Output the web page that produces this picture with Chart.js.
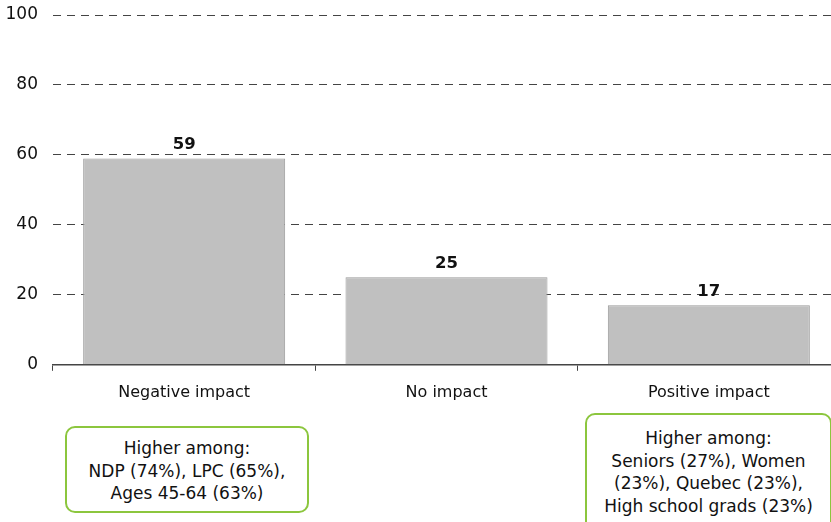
<!DOCTYPE html>
<html>
<head>
<meta charset="utf-8">
<script src="https://cdn.jsdelivr.net/npm/chart.js@4"></script>
<style>
  html, body { margin: 0; padding: 0; background: #fff; overflow: hidden; }
  #wrap { position: relative; width: 845px; height: 522px; }
  .note {
    position: absolute;
    border: 2px solid #8cc63e;
    border-radius: 10px;
    background: #fff;
    font-family: "DejaVu Sans", Verdana, sans-serif;
    font-size: 17px;
    line-height: 22.5px;
    color: #111;
    text-align: center;
    box-sizing: border-box;
    white-space: nowrap;
  }
</style>
</head>
<body>
<div id="wrap">
  <canvas id="bar-chart" width="845" height="522"></canvas>
  <div class="note" style="left:65px; top:426px; width:244px; height:87px; padding-top:9px;">
    Higher among:<br>NDP (74%), LPC (65%),<br>Ages 45-64 (63%)
  </div>
  <div class="note" style="left:585px; top:413px; width:247px; height:120px; padding-top:12px;">
    Higher among:<br>Seniors (27%), Women<br>(23%), Quebec (23%),<br>High school grads (23%)
  </div>
</div>
<script>
const barChart = document.getElementById("bar-chart");
const categories = ["Negative impact", "No impact", "Positive impact"];
const impactValues = [59, 25, 17];
const yTicks = [0, 20, 40, 60, 80, 100];

const fontFamily = '"DejaVu Sans", Verdana, sans-serif';

// draws the bold value on top of each bar
const valueLabels = {
  id: "valueLabels",
  afterDatasetsDraw(chart) {
    const ctx = chart.ctx;
    const meta = chart.getDatasetMeta(0);
    ctx.save();
    ctx.font = "bold 16.5px " + fontFamily;
    ctx.fillStyle = "#111";
    ctx.textAlign = "center";
    ctx.textBaseline = "bottom";
    meta.data.forEach((bar, i) => {
      ctx.fillText(impactValues[i], bar.x, bar.y - 5);
    });
    ctx.restore();
  },
};

new Chart(barChart, {
  type: "bar",
  data: {
    labels: categories,
    datasets: [
      {
        data: impactValues,
        backgroundColor: "#c0c0c0",
        borderColor: "#9a9a9a",
        borderWidth: 1,
        barPercentage: 0.77,
        categoryPercentage: 1,
      },
    ],
  },
  plugins: [valueLabels],
  options: {
    responsive: false,
    animation: false,
    layout: { padding: { top: 0, right: 5, bottom: 108, left: 0 } },
    plugins: {
      legend: { display: false },
      tooltip: { enabled: false },
    },
    scales: {
      x: {
        grid: {
          display: true,
          drawOnChartArea: false,
          drawTicks: true,
          tickLength: 6,
          color: "#444",
        },
        border: { display: true, color: "#444", width: 1.5 },
        ticks: {
          color: "#111",
          font: { family: fontFamily, size: 16 },
          padding: 12,
        },
      },
      y: {
        min: 0,
        max: 100,
        afterBuildTicks(axis) {
          axis.ticks = yTicks.map((v) => ({ value: v }));
        },
        afterFit(axis) {
          axis.width = 53;
          axis.paddingTop = 15;
        },
        grid: {
          color: "#444",
          drawTicks: false,
        },
        border: { display: false, dash: [8, 6] },
        ticks: {
          color: "#111",
          font: { family: fontFamily, size: 17 },
          padding: 15,
        },
      },
    },
  },
});
</script>
</body>
</html>
